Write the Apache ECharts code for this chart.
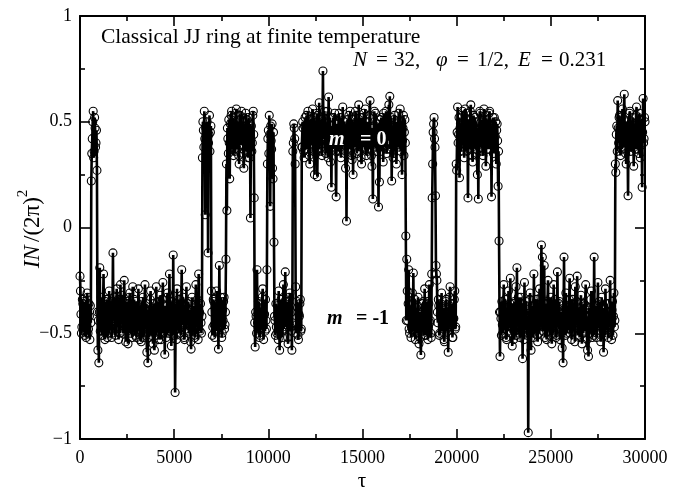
<!DOCTYPE html>
<html>
<head>
<meta charset="utf-8">
<script src="https://cdn.jsdelivr.net/npm/echarts@6/dist/echarts.min.js"></script>
<style>html,body{margin:0;padding:0;background:#fff}#c{width:685px;height:491px}</style>
</head>
<body>
<div id="c"></div>
<script>
// time step between samples (tau units)
var STEP = 25;
// start tau of each block of the trace
var blockStarts = [0, 600, 950, 6500, 7000, 7800, 9300, 9950, 10350, 11800, 17350, 20000, 22300, 28450];
// sampled values of I N/(2 pi)^2, block by block
var blockA = [-0.23,-0.30,-0.41,-0.50,-0.47,-0.34,-0.36,-0.49,-0.44,-0.35,-0.51,-0.38,-0.39,-0.52,-0.45,-0.31,-0.33,-0.50,-0.48,-0.36,-0.42,-0.53,-0.37,-0.45];
var blockB = [0.22,0.35,0.42,0.50,0.55,0.33,0.36,0.52,0.47,0.38,0.40,0.46,0.27,-0.40];
var blockC = [
  -0.58,-0.44,-0.64,-0.40,-0.19,-0.49,-0.44,-0.33,-0.38,-0.51,-0.49,-0.36,-0.22,-0.45,-0.41,-0.53,-0.35,-0.46,-0.47,-0.34,
  -0.52,-0.39,-0.40,-0.50,-0.30,-0.48,-0.46,-0.35,-0.37,-0.52,-0.50,-0.38,-0.12,-0.44,-0.43,-0.33,-0.36,-0.51,-0.48,-0.39,
  -0.29,-0.47,-0.44,-0.34,-0.53,-0.41,-0.39,-0.50,-0.27,-0.45,-0.45,-0.32,-0.34,-0.49,-0.50,-0.37,-0.25,-0.46,-0.42,-0.54,
  -0.47,-0.35,-0.36,-0.48,-0.55,-0.40,-0.41,-0.33,-0.31,-0.50,-0.46,-0.39,-0.38,-0.52,-0.28,-0.44,-0.49,-0.34,-0.43,-0.51,
  -0.35,-0.46,-0.52,-0.37,-0.40,-0.49,-0.29,-0.43,-0.45,-0.53,-0.37,-0.41,-0.54,-0.35,-0.42,-0.48,-0.33,-0.52,-0.48,-0.38,
  -0.27,-0.45,-0.44,-0.36,-0.59,-0.47,-0.64,-0.41,-0.39,-0.52,-0.46,-0.34,-0.30,-0.49,-0.51,-0.38,-0.41,-0.55,-0.36,-0.44,
  -0.58,-0.40,-0.44,-0.51,-0.28,-0.46,-0.49,-0.35,-0.38,-0.53,-0.45,-0.39,-0.32,-0.48,-0.53,-0.42,-0.40,-0.34,-0.26,-0.50,
  -0.47,-0.37,-0.60,-0.45,-0.37,-0.52,-0.43,-0.33,-0.31,-0.47,-0.50,-0.40,-0.22,-0.49,-0.41,-0.35,-0.56,-0.44,-0.35,-0.51,
  -0.13,-0.42,-0.46,-0.36,-0.78,-0.48,-0.39,-0.53,-0.29,-0.45,-0.48,-0.34,-0.42,-0.50,-0.34,-0.47,-0.51,-0.38,-0.20,-0.46,
  -0.44,-0.33,-0.37,-0.52,-0.53,-0.41,-0.40,-0.48,-0.28,-0.45,-0.46,-0.36,-0.35,-0.50,-0.49,-0.39,-0.42,-0.54,-0.575,-0.43,
  -0.33,-0.49,-0.45,-0.37,-0.38,-0.51,-0.52,-0.40,-0.27,-0.46,-0.43,-0.34,-0.48,-0.53,-0.22,-0.41,-0.40,-0.49,-0.36,-0.45,
  -0.50,-0.42];
var blockD = [0.33,0.50,0.46,0.38,0.55,0.42,0.06,0.47,0.41,0.35,0.50,0.44,-0.12,0.40,0.44,0.53,0.36,0.45,0.48,-0.30];
var blockE = [-0.40,-0.51,-0.47,-0.34,-0.35,-0.46,-0.52,-0.38,-0.43,-0.49,-0.30,-0.44,-0.48,-0.36,-0.575,-0.42,
  -0.18,-0.47,-0.41,-0.33,-0.37,-0.52,-0.50,-0.39,-0.44,-0.35,-0.33,-0.48,-0.46,-0.40,-0.15,0.30];
var blockF = [
  0.08,0.47,0.42,0.35,0.51,0.40,0.23,0.49,0.38,0.53,0.55,0.37,0.45,0.52,0.34,0.46,0.49,0.36,0.41,0.54,
  0.56,0.43,0.37,0.50,0.47,0.34,0.30,0.51,0.53,0.39,0.44,0.55,0.39,0.46,0.50,0.35,0.28,0.48,0.46,0.40,
  0.54,0.37,0.36,0.51,0.43,0.33,0.52,0.45,0.33,0.49,0.045,0.42,0.48,0.36,0.40,0.53,0.55,0.44,0.14,-0.45];
var blockG = [-0.565,-0.40,-0.42,-0.50,-0.20,-0.45,-0.47,-0.35,-0.36,-0.52,-0.51,-0.38,-0.39,-0.48,-0.44,-0.33,
  -0.29,-0.46,-0.53,-0.41,-0.41,-0.49,-0.34,-0.44,-0.48,-0.20];
var blockH = [0.30,0.42,0.46,0.35,0.53,0.44,0.10,0.48,0.41,0.37,0.49,0.28,0.23,0.45,-0.07,-0.42];
var blockI = [
  -0.44,-0.51,-0.36,-0.47,-0.50,-0.37,-0.41,-0.53,-0.30,-0.45,-0.58,-0.40,-0.45,-0.34,-0.38,-0.49,-0.52,-0.42,-0.27,-0.48,
  -0.43,-0.35,-0.21,-0.46,-0.47,-0.39,-0.35,-0.52,-0.55,-0.43,-0.40,-0.33,-0.31,-0.47,-0.49,-0.40,-0.58,-0.45,0.36,0.40,
  0.49,0.47,0.42,0.30,-0.28,-0.50,-0.46,-0.35,-0.38,-0.51,-0.53,-0.41,-0.42,-0.36,-0.34,-0.49,-0.48,0.38];
var blockJ = [
  0.38,0.50,0.47,0.36,0.33,0.48,0.52,0.40,0.43,0.53,0.37,0.46,0.55,0.41,0.46,0.34,0.30,0.51,0.49,0.39,
  0.41,0.47,0.56,0.38,0.36,0.52,0.25,0.44,0.48,0.35,0.44,0.54,0.24,0.42,0.53,0.37,0.59,0.46,0.39,0.51,
  0.45,0.36,0.34,0.49,0.74,0.43,0.42,0.55,0.50,0.38,0.35,0.47,0.47,0.40,0.55,0.33,0.617,0.45,0.40,0.52,
  0.31,0.44,0.19,0.48,0.46,0.37,0.52,0.41,0.38,0.54,0.44,0.36,0.145,0.46,0.49,0.39,0.36,0.50,0.54,0.43,
  0.42,0.52,0.33,0.46,0.48,0.37,0.57,0.44,0.39,0.50,0.45,0.35,0.28,0.48,0.03,0.41,0.51,0.36,0.43,0.53,
  0.37,0.47,0.55,0.40,0.46,0.34,0.32,0.51,0.25,0.44,0.49,0.38,0.41,0.55,0.53,0.42,0.35,0.48,0.47,0.36,
  0.58,0.45,0.40,0.52,0.44,0.33,0.30,0.49,0.52,0.41,0.38,0.54,0.46,0.37,0.56,0.43,0.34,0.50,0.43,0.36,
  0.50,0.44,0.37,0.53,0.60,0.40,0.45,0.34,0.29,0.47,0.135,0.42,0.48,0.55,0.41,0.38,0.54,0.45,0.36,0.49,
  0.47,0.40,0.097,0.44,0.215,0.51,0.44,0.36,0.52,0.43,0.39,0.48,0.31,0.54,0.49,0.38,0.43,0.46,0.55,0.35,
  0.37,0.50,0.46,0.41,0.58,0.44,0.62,0.37,0.40,0.52,0.22,0.45,0.48,0.33,0.35,0.51,0.53,0.42,0.42,0.47,
  0.30,0.49,0.50,0.39,0.45,0.54,0.38,0.44,0.56,0.36,0.43,0.50,0.25,0.41,0.47,0.53,0.34,0.45,0.51,0.40,
  -0.04,-0.44];
var blockK = [
  -0.15,-0.30,-0.44,-0.36,-0.20,-0.48,-0.50,-0.39,-0.37,-0.52,-0.47,-0.35,-0.31,-0.45,-0.215,-0.49,-0.42,-0.34,-0.53,-0.41,
  -0.38,-0.50,-0.46,-0.37,-0.33,-0.47,-0.55,-0.40,-0.41,-0.52,-0.603,-0.44,-0.36,-0.49,-0.48,-0.35,-0.43,-0.51,-0.29,-0.42,
  -0.51,-0.38,-0.40,-0.47,-0.35,-0.53,-0.47,-0.36,-0.27,-0.45,-0.44,-0.50,-0.52,-0.22,0.14,0.30,0.45,0.49,0.52,0.42,
  0.38,0.15,-0.18,-0.22,-0.25,-0.40,-0.45,-0.34,-0.37,-0.51,-0.50,-0.41,-0.42,-0.36,-0.31,-0.49,-0.48,-0.38,-0.39,-0.53,
  -0.54,-0.42,-0.44,-0.35,-0.34,-0.48,-0.49,-0.40,-0.59,-0.45,-0.41,-0.33,-0.28,-0.47,-0.46,-0.39,-0.36,-0.52,-0.52,-0.43,
  -0.43,-0.34,-0.30,-0.48,-0.47,0.30];
var blockL = [
  0.27,0.45,0.57,0.40,0.44,0.52,0.235,0.47,0.49,0.36,0.38,0.53,0.55,0.43,0.42,0.50,0.33,0.46,0.56,0.39,
  0.47,0.54,0.36,0.44,0.14,0.49,0.51,0.37,0.40,0.55,0.58,0.42,0.45,0.34,0.31,0.48,0.53,0.41,0.43,0.52,
  0.37,0.46,0.50,0.35,0.25,0.47,0.135,0.43,0.46,0.55,0.54,0.38,0.39,0.51,0.48,0.36,0.34,0.50,0.56,0.44,
  0.42,0.53,0.29,0.45,0.51,0.37,0.44,0.49,0.37,0.54,0.55,0.40,0.41,0.47,0.145,0.43,0.48,0.52,0.35,0.44,
  0.52,0.38,0.43,0.50,0.30,0.46,0.49,0.41,0.195,0.36,-0.064,-0.40];
var blockM = [
  -0.61,-0.40,-0.43,-0.51,-0.35,-0.46,-0.50,-0.37,-0.27,-0.48,-0.45,-0.34,-0.38,-0.52,-0.53,-0.41,-0.41,-0.49,-0.30,-0.44,
  -0.47,-0.36,-0.24,-0.50,-0.44,-0.38,-0.56,-0.42,-0.36,-0.53,-0.49,-0.35,-0.42,-0.47,-0.28,-0.51,-0.19,-0.43,-0.46,-0.33,
  -0.39,-0.50,-0.52,-0.40,-0.33,-0.47,-0.45,-0.36,-0.62,-0.44,-0.40,-0.53,-0.26,-0.45,-0.48,-0.35,-0.37,-0.50,-0.51,-0.42,
  -0.97,-0.46,-0.43,-0.34,-0.31,-0.49,-0.58,-0.41,-0.46,-0.37,-0.38,-0.52,-0.22,-0.45,-0.50,-0.36,-0.41,-0.48,-0.34,-0.51,
  -0.54,-0.39,-0.44,-0.50,-0.29,-0.46,-0.47,-0.33,-0.083,-0.43,-0.14,-0.49,-0.39,-0.36,-0.18,-0.47,-0.52,-0.40,-0.36,-0.53,
  -0.45,-0.35,-0.25,-0.48,-0.49,-0.42,-0.40,-0.51,-0.33,-0.46,-0.55,-0.38,-0.43,-0.50,-0.27,-0.44,-0.47,-0.34,-0.38,-0.52,
  -0.51,-0.41,-0.21,-0.47,-0.44,-0.36,-0.35,-0.53,-0.48,-0.40,-0.41,-0.49,-0.57,-0.37,-0.64,-0.45,-0.14,-0.43,-0.42,-0.51,
  -0.31,-0.46,-0.50,-0.38,-0.37,-0.48,-0.46,-0.34,-0.24,-0.50,-0.43,-0.36,-0.53,-0.42,-0.34,-0.49,-0.48,-0.39,-0.40,-0.54,
  -0.28,-0.44,-0.45,-0.35,-0.23,-0.48,-0.51,-0.40,-0.38,-0.52,-0.44,-0.36,-0.32,-0.47,-0.55,-0.41,-0.42,-0.50,-0.36,-0.45,
  -0.49,-0.37,-0.27,-0.46,-0.46,-0.53,-0.58,-0.42,-0.61,-0.38,-0.39,-0.50,-0.47,-0.34,-0.30,-0.48,-0.52,-0.40,-0.43,-0.51,
  -0.14,-0.44,-0.45,-0.37,-0.37,-0.52,-0.50,-0.41,-0.26,-0.47,-0.44,-0.35,-0.40,-0.49,-0.54,-0.42,-0.33,-0.46,-0.47,-0.38,
  -0.59,-0.45,-0.41,-0.51,-0.29,-0.43,-0.48,-0.36,-0.36,-0.50,-0.52,-0.40,-0.43,-0.47,-0.25,-0.44,-0.46,-0.53,-0.39,-0.35,
  -0.51,-0.42,-0.31,-0.47,-0.44,0.30];
var blockN = [
  0.26,0.44,0.48,0.36,0.60,0.47,0.40,0.52,0.53,0.39,0.34,0.49,0.45,0.37,0.56,0.43,0.38,0.51,0.63,0.45,
  0.43,0.35,0.30,0.48,0.50,0.41,0.15,0.46,0.47,0.54,0.55,0.38,0.36,0.50,0.44,0.40,0.52,0.47,0.29,0.43,
  0.49,0.37,0.41,0.53,0.57,0.44,0.37,0.49,0.46,0.35,0.54,0.42,0.33,0.51,0.48,0.39,0.19,0.45,0.61,0.40,
  0.42,0.52,0.50];
var blocks = [blockA, blockB, blockC, blockD, blockE, blockF, blockG, blockH, blockI, blockJ, blockK, blockL, blockM, blockN];

// axis ticks
var xTicks = [0, 5000, 10000, 15000, 20000, 25000, 30000];
var yTicks = [-1, -0.5, 0, 0.5, 1];

var seriesData = [];
blocks.forEach(function (b, k) {
  b.forEach(function (v, j) { seriesData.push([blockStarts[k] + j * STEP, v]); });
});

var SERIF = '"Liberation Serif", "Times New Roman", serif';
var chart = echarts.init(document.getElementById('c'), null, {renderer: 'canvas'});

function axisCommon(showLabel) {
  return {
    axisLine: {show: true, onZero: false, lineStyle: {color: '#000', width: 2}},
    axisTick: {show: true, inside: true, length: 10, lineStyle: {color: '#000', width: 1.6}},
    minorTick: {show: true, splitNumber: 2, length: 5, lineStyle: {color: '#000', width: 1.6}},
    splitLine: {show: false},
    minorSplitLine: {show: false},
    axisLabel: {show: showLabel, color: '#000', fontSize: 18, fontFamily: SERIF, margin: 10}
  };
}

var xMain = Object.assign(axisCommon(true), {type: 'value', position: 'bottom', min: xTicks[0], max: xTicks[xTicks.length - 1], interval: xTicks[1] - xTicks[0]});
xMain.axisLabel.formatter = function (v) { return String(v); };
var xTop = Object.assign(axisCommon(false), {type: 'value', position: 'top', min: xTicks[0], max: xTicks[xTicks.length - 1], interval: xTicks[1] - xTicks[0]});
var yMain = Object.assign(axisCommon(true), {type: 'value', position: 'left', min: yTicks[0], max: yTicks[yTicks.length - 1], interval: yTicks[1] - yTicks[0]});
yMain.axisLabel.margin = 8;
yMain.axisLabel.formatter = function (v) { return v < 0 ? '\u2212' + Math.abs(v) : String(v); };
var yRight = Object.assign(axisCommon(false), {type: 'value', position: 'right', min: yTicks[0], max: yTicks[yTicks.length - 1], interval: yTicks[1] - yTicks[0]});

function txt(x, y, s, font, fill) {
  return {type: 'text', x: x, y: y, z: 10, style: {text: s, font: font, fill: fill || '#000', verticalAlign: 'middle'}};
}
var F = '21px ' + SERIF, FI = 'italic 21px ' + SERIF;
var FB = 'bold 20px ' + SERIF, FBI = 'italic bold 20px ' + SERIF;

chart.setOption({
  animation: false,
  backgroundColor: '#fff',
  grid: {left: 80, right: 40, top: 16, bottom: 52},
  xAxis: [xMain, xTop],
  yAxis: [yMain, yRight],
  series: [{
    type: 'line',
    xAxisIndex: 0, yAxisIndex: 0,
    data: seriesData,
    symbol: 'circle',
    symbolSize: 8,
    showSymbol: true,
    showAllSymbol: true,
    clip: true,
    itemStyle: {color: 'rgba(0,0,0,0)', borderColor: '#000', borderWidth: 1.1},
    lineStyle: {color: '#000', width: 2.6},
    z: 2
  }],
  graphic: [
    txt(101, 37.5, 'Classical JJ ring at finite temperature', '21.5px ' + SERIF),
    txt(353, 60, 'N', FI), txt(376, 60, '=', F), txt(394, 60, '32,', F),
    txt(436, 60, '\u03c6', FI), txt(457, 60, '=', F), txt(477, 60, '1/2,', F),
    txt(518, 60, 'E', FI), txt(541, 60, '=', F), txt(559, 60, '0.231', F),
    txt(329, 139.5, 'm', FBI, '#fff'), txt(360, 139.5, '= 0', FB, '#fff'),
    txt(327, 318.5, 'm', FBI), txt(356, 318.5, '= -1', FB),
    {type: 'text', x: 30, y: 229, rotation: Math.PI / 2, z: 10, style: {
      text: '{i|IN} {n|/(2\u03c0)}{s|2}', fill: '#000', align: 'center', verticalAlign: 'middle',
      rich: {
        i: {fontStyle: 'italic', fontSize: 23, fontFamily: SERIF, lineHeight: 28, verticalAlign: 'bottom'},
        n: {fontSize: 23, fontFamily: SERIF, lineHeight: 28, verticalAlign: 'bottom'},
        s: {fontSize: 15, fontFamily: SERIF, lineHeight: 15, verticalAlign: 'top'}
      }
    }},
    {type: 'text', x: 362, y: 481, z: 10, style: {text: '\u03c4', font: '21px ' + SERIF, fill: '#000', align: 'center', verticalAlign: 'middle'}}
  ]
});
</script>
</body>
</html>
